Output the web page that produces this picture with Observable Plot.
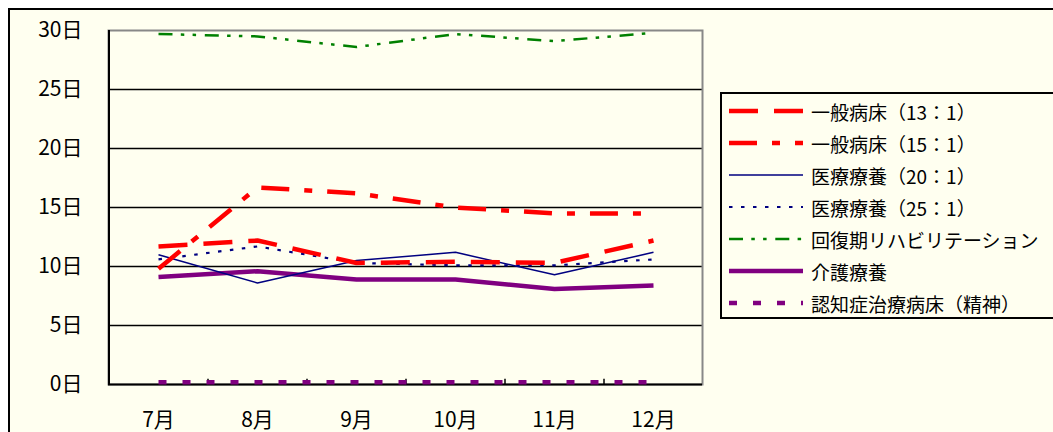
<!DOCTYPE html>
<html><head><meta charset="utf-8">
<script src="https://cdn.jsdelivr.net/npm/d3@7"></script>
<script src="https://cdn.jsdelivr.net/npm/@observablehq/plot@0.6"></script>
<style>
html,body{margin:0;padding:0;background:#fff;overflow:hidden;width:1053px;height:432px}
#wrap{position:relative;width:1053px;height:432px;font-family:"Noto Sans CJK JP",sans-serif;color:#000}
#frame{position:absolute;left:8px;top:8px;width:1100px;height:500px;border-left:2.5px solid #000;border-top:2.5px solid #000;background:#FFFFF0;box-sizing:border-box}
#chart{position:absolute;left:0;top:0}
#legend{position:absolute;left:720px;top:92px;width:345px;height:227px;border:2px solid #000;box-sizing:border-box;background:#FFFFF0;padding-top:1px}
.row{height:32px;display:flex;align-items:center;font-size:19px;white-space:nowrap}
.row svg{flex:none}
</style></head>
<body><div id="wrap"><div id="frame"></div><div id="chart"></div><div id="legend"></div></div>
<script>
const months = ["7月", "8月", "9月", "10月", "11月", "12月"];
const seriesNames = ["一般病床（13：1）", "一般病床（15：1）", "医療療養（20：1）", "医療療養（25：1）", "回復期リハビリテーション", "介護療養", "認知症治療病床（精神）"];
const general13 = [11.7, 12.2, 10.3, 10.4, 10.3, 12.2];
const general15 = [9.8, 16.7, 16.2, 15.0, 14.5, 14.5];
const medical20 = [11.0, 8.6, 10.5, 11.2, 9.3, 11.2];
const medical25 = [10.6, 11.7, 10.3, 10.1, 10.1, 10.6];
const rehab = [29.7, 29.5, 28.6, 29.7, 29.1, 29.8];
const careType = [9.1, 9.6, 8.9, 8.9, 8.1, 8.4];
const dementia = [0.2, 0.2, 0.2, 0.2, 0.2, 0.2];
const yTicks = [0, 5, 10, 15, 20, 25, 30];
const gridValues = [5, 10, 15, 20, 25];

const seriesValues = [general13, general15, medical20, medical25, rehab, careType, dementia];
const styles = [
  {stroke: "#FF0000", strokeWidth: 4.5, dash: "29 16"},
  {stroke: "#FF0000", strokeWidth: 4.5, dash: "28 15 8 15"},
  {stroke: "#000080", strokeWidth: 1.5, dash: null},
  {stroke: "#000080", strokeWidth: 2.2, dash: "3.5 8.5"},
  {stroke: "#008000", strokeWidth: 2.5, dash: "14 8.3 3.5 8.3 3.5 8.7"},
  {stroke: "#800080", strokeWidth: 4.5, dash: null},
  {stroke: "#800080", strokeWidth: 4.5, dash: "8 16"}
];

const table = seriesNames.flatMap((s, i) => months.map((m, j) => ({series: s, month: m, value: seriesValues[i][j]})));

const W = 1053, H = 432, mL = 108, mR = 351, mT = 30, mB = 48;
const step = (W - mL - mR) / months.length;

const marks = [
  Plot.ruleY(gridValues, {stroke: "#000", strokeWidth: 1.6}),
  Plot.frame({stroke: "#888", strokeWidth: 2}),
  Plot.ruleY([0], {stroke: "#000", strokeWidth: 2}),
  Plot.ruleX([months[0]], {dx: -step / 2, stroke: "#000", strokeWidth: 2}),
  Plot.ruleX(months.slice(0, -1), {y1: 0, y2: 0.45, dx: step / 2, stroke: "#000", strokeWidth: 1.5}),
  Plot.axisY({ticks: yTicks, tickFormat: d => d + "日", tickSize: 0, tickPadding: 26, fontSize: 21}),
  Plot.axisX({tickSize: 0, tickPadding: 28, fontSize: 21})
];
const order = [6, 5, 4, 3, 2, 0, 1];
for (const i of order) {
  const st = styles[i];
  marks.push(Plot.line(table.filter(d => d.series === seriesNames[i]), {
    x: "month", y: "value", stroke: st.stroke, strokeWidth: st.strokeWidth,
    strokeDasharray: st.dash || undefined, strokeLinejoin: "miter", strokeLinecap: "butt", curve: "linear"
  }));
}

const chart = Plot.plot({
  width: W, height: H,
  marginLeft: mL, marginRight: mR, marginTop: mT, marginBottom: mB,
  style: {fontFamily: "'Noto Sans CJK JP', sans-serif", fontSize: "21px", background: "transparent", color: "#000", maxWidth: "none"},
  x: {type: "point", domain: months, padding: 0.5, label: null},
  y: {domain: [0, 30], label: null},
  marks
});
document.getElementById("chart").appendChild(chart);

const legend = document.getElementById("legend");
seriesNames.forEach((name, i) => {
  const st = styles[i];
  const row = document.createElement("div");
  row.className = "row";
  row.innerHTML = `<svg width="89" height="20"><line x1="7" x2="81" y1="10" y2="10" stroke="${st.stroke}" stroke-width="${st.strokeWidth}" ${st.dash ? `stroke-dasharray="${st.dash}"` : ""}/></svg><span>${name}</span>`;
  legend.appendChild(row);
});
</script>
</body></html>
